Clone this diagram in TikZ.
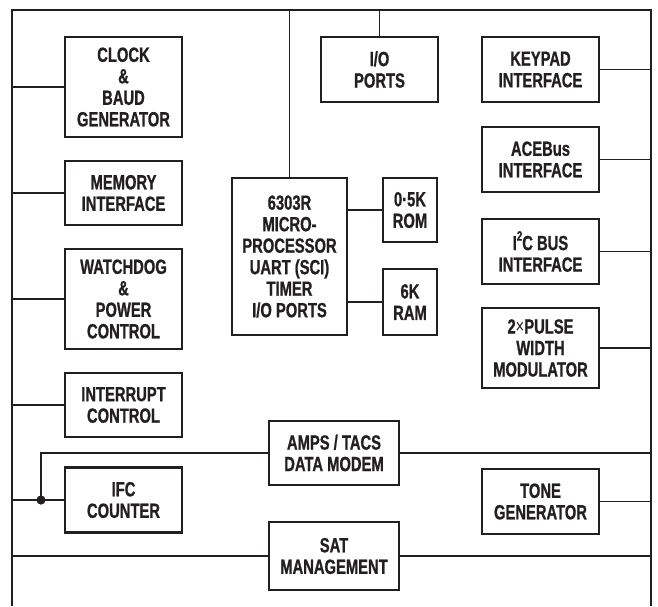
\documentclass[tikz,border=0pt]{standalone}
\usepackage{fontspec}
\setmainfont{Liberation Sans}[FakeStretch=0.72, BoldFeatures={FakeBold=0.9}]
\definecolor{ink}{HTML}{231F20}
\tikzset{
  blk/.style={draw=ink, line width=2.2pt, inner sep=0pt, align=center, text=ink,
    font=\bfseries\fontsize{20.5}{21.5}\selectfont},
  wire/.style={draw=ink, line width=1.1pt},
  frameline/.style={draw=ink, line width=2.4pt},
}
\newcommand{\supdigit}[1]{\raisebox{9.5pt}{\fontsize{13.5}{13.5}\selectfont #1}}
\begin{document}
\begin{tikzpicture}[x=1pt,y=-1pt]
\useasboundingbox (0,0) rectangle (658,606);
% frame (open at the bottom)
\coordinate (fbl) at (12,606);
\coordinate (ftl) at (12,10);
\coordinate (ftr) at (651,10);
\coordinate (fbr) at (651,606);
\draw[frameline] (fbl) -- (ftl) -- (ftr) -- (fbr);

% left column
\node[blk, minimum width=117pt, minimum height=100pt] (clock) at (123.5,87) {CLOCK\\\&\\BAUD\\GENERATOR};
\node[blk, minimum width=117pt, minimum height=64pt] (mem) at (123.5,193) {MEMORY\\INTERFACE};
\node[blk, minimum width=117pt, minimum height=100pt] (wdog) at (123.5,299) {WATCHDOG\\\&\\POWER\\CONTROL};
\node[blk, minimum width=117pt, minimum height=64pt] (intr) at (123.5,405) {INTERRUPT\\CONTROL};
\node[blk, minimum width=117pt, minimum height=65pt] (ifc) at (123.5,500) {IFC\\COUNTER};

% centre
\node[blk, minimum width=117pt, minimum height=65pt] (iop) at (379.5,69.5) {I/O\\PORTS};
\node[blk, minimum width=115pt, minimum height=157pt] (cpu) at (289.5,256.5) {6303R\\MICRO-\\PROCESSOR\\UART (SCI)\\TIMER\\I/O PORTS};
\node[blk, minimum width=54pt, minimum height=64pt] (rom) at (410,210) {0·5K\\ROM};
\node[blk, minimum width=54pt, minimum height=66pt] (ram) at (410,302) {6K\\RAM};
\node[blk, minimum width=130pt, minimum height=64pt] (amps) at (334,453) {AMPS / TACS\\DATA MODEM};
\node[blk, minimum width=130pt, minimum height=68pt] (sat) at (334,556) {SAT\\MANAGEMENT};

% right column
\node[blk, minimum width=117pt, minimum height=65pt] (keypad) at (540.5,69.5) {KEYPAD\\INTERFACE};
\node[blk, minimum width=117pt, minimum height=65pt] (acebus) at (540.5,159.5) {ACEBus\\INTERFACE};
\node[blk, minimum width=117pt, minimum height=65pt] (i2c) at (540.5,251.5) {I\supdigit{2}C BUS\\INTERFACE};
\node[blk, minimum width=117pt, minimum height=80pt] (pwm) at (540.5,348) {2{\mdseries ×}PULSE\\WIDTH\\MODULATOR};
\node[blk, minimum width=117pt, minimum height=65pt] (tone) at (540.5,501.5) {TONE\\GENERATOR};

% connectors to the left bus
\foreach \b in {clock,mem,wdog,intr,ifc}
  \draw[wire] (\b.west) -- (\b.west -| ftl);
% connectors to the right bus
\foreach \b in {keypad,acebus,i2c,pwm,tone,amps}
  \draw[wire] (\b.east) -- (\b.east -| ftr);
% top bus
\draw[wire] (cpu.north) -- (cpu.north |- ftl);
\draw[wire] (iop.north) -- (iop.north |- ftl);
% cpu to memories
\draw[wire] (cpu.east |- rom.west) -- (rom.west);
\draw[wire] (cpu.east |- ram.west) -- (ram.west);
% SAT across the bus
\draw[wire] (sat.west -| ftl) -- (sat.west);
\draw[wire] (sat.east) -- (sat.east -| ftr);
% junction to AMPS modem
\coordinate (jx) at (41,0);
\coordinate (j) at (ifc.west -| jx);
\draw[wire] (j) |- (amps.west);
\fill[ink] (j) circle (4.6pt);
\end{tikzpicture}
\end{document}
